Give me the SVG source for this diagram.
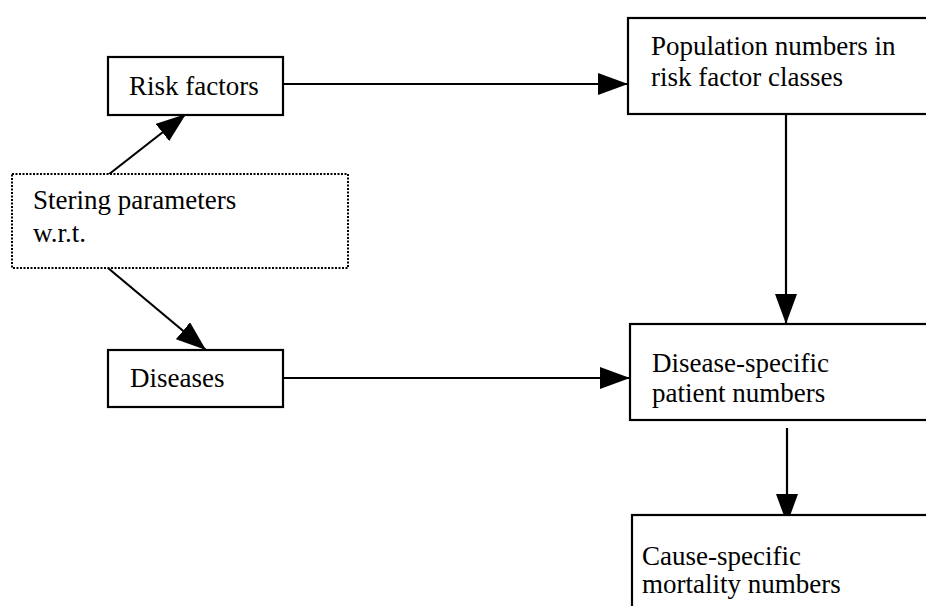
<svg xmlns="http://www.w3.org/2000/svg" width="926" height="606" viewBox="0 0 926 606">
<defs>
<marker id="big" viewBox="0 0 30 22" refX="30" refY="11" markerWidth="30" markerHeight="22" orient="auto" markerUnits="userSpaceOnUse">
<path d="M0,0 L30,11 L0,22 z" fill="#000"/>
</marker>
</defs>
<style>
.box{fill:#fff;stroke:#000;stroke-width:2.2}
.dot{fill:#fff;stroke:#000;stroke-width:2;stroke-dasharray:2 1.5}
.t{font-family:"Liberation Serif","Times New Roman",serif;font-size:27px;fill:#000}
.c{stroke:#000;stroke-width:2.2;fill:none;marker-end:url(#big)}
</style>
<rect width="926" height="606" fill="#fff"/>
<g id="connectors">
<line class="c" x1="108" y1="175" x2="186" y2="114"/>
<line class="c" x1="108" y1="268" x2="206" y2="350"/>
<line class="c" x1="283" y1="84" x2="628" y2="84"/>
<line class="c" x1="283" y1="378" x2="630" y2="378"/>
<line class="c" x1="786" y1="114" x2="786" y2="324"/>
<line class="c" x1="787" y1="428" x2="787" y2="524"/>
</g>
<g id="risk-factors">
<rect class="box" x="108" y="57" width="175" height="58"/>
<text class="t" x="129" y="95">Risk factors</text>
</g>
<g id="stering-parameters">
<rect class="dot" x="12" y="174" width="336" height="94"/>
<text class="t" x="33" y="209">Stering parameters</text>
<text class="t" x="33" y="242">w.r.t.</text>
</g>
<g id="diseases">
<rect class="box" x="108" y="350" width="175" height="57"/>
<text class="t" x="130" y="387">Diseases</text>
</g>
<g id="population">
<rect class="box" x="628" y="18" width="310" height="96"/>
<text class="t" x="651" y="55">Population numbers in</text>
<text class="t" x="651" y="86">risk factor classes</text>
</g>
<g id="disease-specific">
<rect class="box" x="630" y="324" width="310" height="96"/>
<text class="t" x="652" y="372">Disease-specific</text>
<text class="t" x="652" y="402">patient numbers</text>
</g>
<g id="cause-specific">
<rect class="box" x="632" y="515" width="310" height="110"/>
<text class="t" x="642" y="565">Cause-specific</text>
<text class="t" x="642" y="593">mortality numbers</text>
</g>
</svg>
